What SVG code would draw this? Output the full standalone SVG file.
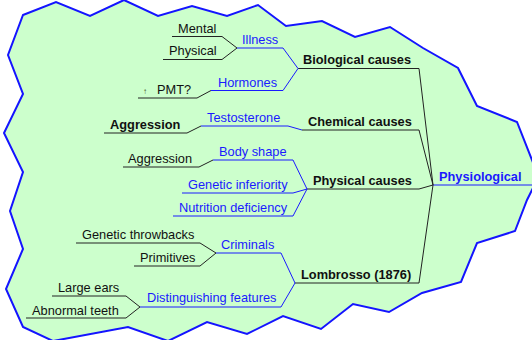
<svg xmlns="http://www.w3.org/2000/svg" width="532" height="340" viewBox="0 0 532 340">
<style>
.t{font-family:"Liberation Sans",Arial,sans-serif;font-size:12.8px;fill:#111}
.b{font-weight:bold}
.bl{fill:#1a1aff}
.k{fill:none;stroke:#222;stroke-width:1}
.u{fill:none;stroke:#1a1aff;stroke-width:1}
</style>
<rect width="532" height="340" fill="#ffffff"/>
<path id="cloud" d="M23,15 L56,2 L90,16 L124,0 L158,16 L192,6 L227,16 L258,5 L286,26 L322,21 L355,37 L390,27 L423,48 L458,68 L477,106 L517,122 L534,165 L534,186 L527,200 L515,231 L477,243 L461,282 L422,293 L389,312 L353,304 L321,329 L283,316 L247,334 L207,322 L168,341 L128,327 L53,341 L23,327 L6,289 L23,249 L10,211 L23,172 L4,133 L23,94 L8,55 Z" fill="#ccffcc" stroke="#1414ff" stroke-width="2" stroke-linejoin="miter"/>
<g id="connectors">
<path class="u" d="M433,185 L532,185"/>
<path class="k" d="M433,185 L419,68.5 L298,68.5"/>
<path class="k" d="M433,185 L419,130 L302,130"/>
<path class="k" d="M433,185 L419,189 L307,189"/>
<path class="k" d="M433,185 L419,283 L295,283"/>
<path class="u" d="M298,68.5 L283,48 L237,48"/>
<path class="u" d="M298,68.5 L283,90.5 L211,90.5"/>
<path class="k" d="M237,48 L222,36.5 L172,36.5"/>
<path class="k" d="M237,48 L222,59.5 L163,59.5"/>
<path class="k" d="M211,90.5 L197,98 L138,98"/>
<path class="u" d="M302,130 L288,126 L201,126"/>
<path class="k" d="M201,126 L187,133 L104,133"/>
<path class="u" d="M307,189 L293,160 L213,160"/>
<path class="u" d="M307,189 L293,193 L182,193"/>
<path class="u" d="M307,189 L293,216 L173,216"/>
<path class="k" d="M213,160 L199,167 L123,167"/>
<path class="u" d="M295,283 L281,253 L216,253"/>
<path class="u" d="M295,283 L281,307 L140,307"/>
<path class="k" d="M216,253 L200,243 L76,243"/>
<path class="k" d="M216,253 L200,266 L134,266"/>
<path class="k" d="M140,307 L126,296 L52,296"/>
<path class="k" d="M140,307 L126,318 L26,318"/>
</g>
<g id="physiological"><text class="t b bl" x="439" y="181">Physiological</text></g>
<g id="biological"><text class="t b" x="303" y="64">Biological causes</text></g>
<g id="chemical"><text class="t b" x="308" y="125.5">Chemical causes</text></g>
<g id="physical-causes"><text class="t b" x="313" y="184.5">Physical causes</text></g>
<g id="lombrosso"><text class="t b" x="301" y="279">Lombrosso (1876)</text></g>
<g id="illness"><text class="t bl" x="242" y="44">Illness</text></g>
<g id="mental"><text class="t" x="178" y="33">Mental</text></g>
<g id="physical"><text class="t" x="169" y="55">Physical</text></g>
<g id="hormones"><text class="t bl" x="218" y="87">Hormones</text></g>
<g id="pmt"><text class="t" x="143" y="94" style="font-size:8px;fill:#445522">↑</text><text class="t" x="157" y="94">PMT?</text></g>
<g id="testosterone"><text class="t bl" x="207" y="122">Testosterone</text></g>
<g id="aggression1"><text class="t b" x="110" y="129">Aggression</text></g>
<g id="bodyshape"><text class="t bl" x="219" y="156">Body shape</text></g>
<g id="aggression2"><text class="t" x="128" y="163">Aggression</text></g>
<g id="genetic-inferiority"><text class="t bl" x="188" y="189">Genetic inferiority</text></g>
<g id="nutrition"><text class="t bl" x="179" y="212">Nutrition deficiency</text></g>
<g id="criminals"><text class="t bl" x="221" y="249">Criminals</text></g>
<g id="throwbacks"><text class="t" x="82" y="239">Genetic throwbacks</text></g>
<g id="primitives"><text class="t" x="140" y="262">Primitives</text></g>
<g id="distinguishing"><text class="t bl" x="147" y="302">Distinguishing features</text></g>
<g id="largeears"><text class="t" x="58" y="292">Large ears</text></g>
<g id="teeth"><text class="t" x="32" y="315">Abnormal teeth</text></g>
</svg>
